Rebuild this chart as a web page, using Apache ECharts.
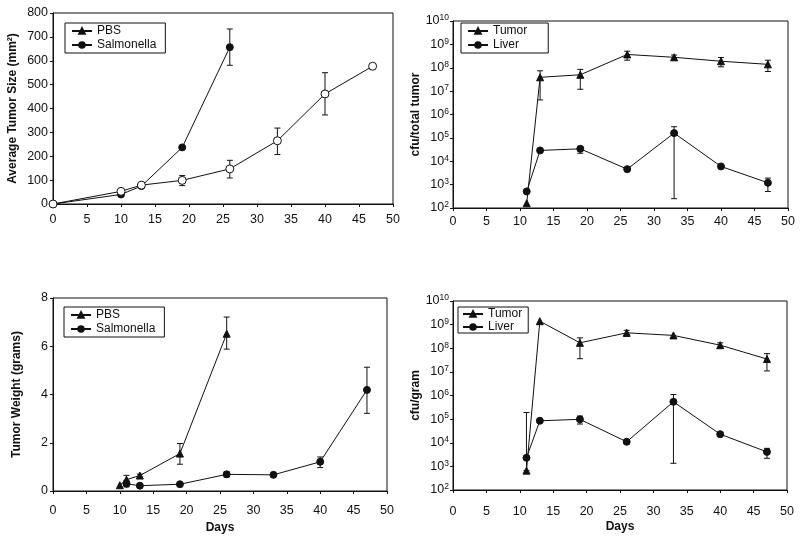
<!DOCTYPE html>
<html><head><meta charset="utf-8">
<script src="https://cdn.jsdelivr.net/npm/echarts@6/dist/echarts.min.js"></script>
<style>html,body{margin:0;padding:0;background:#fff}#c{width:800px;height:537px}</style>
</head><body><div id="c"></div>
<script>
// ---- Panel A: Average tumor size (mm^2)
const sizeDaysPBS = [0, 10, 13, 19, 26];
const sizePBS = [0, 40, 75, 237, 657];
const sizeErrPBS = [[26, 581, 733]];
const sizeDaysSal = [0, 10, 13, 19, 26, 33, 40, 47];
const sizeSal = [0, 53, 79, 99, 147, 265, 461, 577];
const sizeErrSal = [[19, 77, 119], [26, 109, 183], [33, 207, 318], [40, 373, 550]];

// ---- Panel B: cfu/total tumor
const cfuDays = [11, 13, 19, 26, 33, 40, 47];
const tumorTotal = [160, 3.9e7, 5e7, 3.7e8, 2.8e8, 1.9e8, 1.4e8];
const tumorTotalErr = [[13, 4.2e6, 7.4e7], [19, 1.2e7, 8.5e7], [26, 2.1e8, 5.1e8], [33, 2.1e8, 3.5e8], [40, 1.1e8, 2.75e8], [47, 6.9e7, 2.1e8]];
const liverTotal = [510, 2.9e4, 3.4e4, 4.6e3, 1.6e5, 6e3, 1.2e3];
const liverTotalErr = [[19, 2.2e4, 4.3e4], [33, 250, 3e5], [47, 510, 1.9e3]];

// ---- Panel C: tumor weight (grams)
const wDaysPBS = [10, 11, 13, 19, 26];
const wPBS = [0.24, 0.47, 0.64, 1.55, 6.52];
const wErrPBS = [[11, 0.30, 0.65], [13, 0.58, 0.70], [19, 1.11, 1.97], [26, 5.88, 7.21]];
const wDaysSal = [11, 13, 19, 26, 33, 40, 47];
const wSal = [0.30, 0.22, 0.28, 0.69, 0.67, 1.21, 4.19];
const wErrSal = [[11, 0.17, 0.44], [26, 0.58, 0.79], [40, 0.97, 1.41], [47, 3.22, 5.13]];

// ---- Panel D: cfu/gram
const tumorGram = [660, 1.4e9, 1.7e8, 4.5e8, 3.5e8, 1.35e8, 3.5e7];
const tumorGramErr = [[11, 660, 1.9e5], [19, 3.6e7, 2.75e8], [26, 3.2e8, 5.75e8], [40, 9.8e7, 1.7e8], [47, 1.1e7, 5.9e7]];
const liverGram = [2300, 8.5e4, 9.8e4, 1.1e4, 5.4e5, 2.3e4, 4.1e3];
const liverGramErr = [[19, 6.2e4, 1.35e5], [26, 9e3, 1.3e4], [33, 1.35e3, 1.1e6], [47, 2.2e3, 5.8e3]];

const xTicks = [0, 5, 10, 15, 20, 25, 30, 35, 40, 45, 50];

const FONT = '"Liberation Sans", Arial, sans-serif';
const INK = '#111';

function pairs(xs, ys) { return xs.map((x, i) => [x, ys[i]]); }

function errSeries(data, xi, yi) {
  return {
    type: 'custom', xAxisIndex: xi, yAxisIndex: yi, silent: true, z: 1,
    encode: { x: 0, y: [1, 2] },
    data: data,
    renderItem: function (params, api) {
      const x = api.value(0), lo = api.value(1), hi = api.value(2);
      const a = api.coord([x, lo]), b = api.coord([x, hi]);
      const w = 3;
      const st = { stroke: INK, lineWidth: 1 };
      return { type: 'group', children: [
        { type: 'line', shape: { x1: a[0], y1: a[1], x2: b[0], y2: b[1] }, style: st },
        { type: 'line', shape: { x1: a[0] - w, y1: a[1], x2: a[0] + w, y2: a[1] }, style: st },
        { type: 'line', shape: { x1: b[0] - w, y1: b[1], x2: b[0] + w, y2: b[1] }, style: st }
      ] };
    }
  };
}

function lineSeries(name, data, xi, yi, symbol, size, fill) {
  return {
    type: 'line', name: name, xAxisIndex: xi, yAxisIndex: yi, data: data,
    symbol: symbol, symbolSize: size, showAllSymbol: true, z: 3,
    lineStyle: { color: INK, width: 1 },
    itemStyle: { color: fill, borderColor: INK, borderWidth: 1 }
  };
}

function xAxis(gi, margin, showName) {
  return {
    type: 'value', gridIndex: gi, min: 0, max: 50, interval: 5,
    axisLine: { show: true, onZero: false, lineStyle: { color: INK, width: 1 } },
    axisTick: { show: true, length: 3, lineStyle: { color: INK } },
    splitLine: { show: false },
    axisLabel: { color: INK, fontSize: 12.5, fontFamily: FONT, margin: margin },
    name: showName ? 'Days' : '', nameLocation: 'middle', nameGap: 31,
    nameTextStyle: { color: INK, fontSize: 12, fontWeight: 'bold', fontFamily: FONT }
  };
}

function logLabel(v) {
  const e = Math.round(Math.log10(v));
  return '{b|10}{s|' + e + '}';
}

function yAxisLin(gi, min, max, interval, name, gap) {
  return {
    type: 'value', gridIndex: gi, min: min, max: max, interval: interval,
    axisLine: { show: true, onZero: false, lineStyle: { color: INK, width: 1 } },
    axisTick: { show: true, length: 3, lineStyle: { color: INK } },
    splitLine: { show: false },
    axisLabel: { color: INK, fontSize: 12.5, fontFamily: FONT, margin: 5 },
    name: name, nameLocation: 'middle', nameRotate: 90, nameGap: gap,
    nameTextStyle: { color: INK, fontSize: 12, fontWeight: 'bold', fontFamily: FONT }
  };
}

function yAxisLog(gi, name, gap) {
  return {
    type: 'log', logBase: 10, gridIndex: gi, min: 100, max: 1e10,
    axisLine: { show: true, onZero: false, lineStyle: { color: INK, width: 1 } },
    axisTick: { show: true, length: 3, lineStyle: { color: INK } },
    splitLine: { show: false }, minorTick: { show: false },
    axisLabel: {
      formatter: logLabel, margin: 4,
      rich: {
        b: { color: INK, fontSize: 12.5, fontFamily: FONT },
        s: { color: INK, fontSize: 8.5, fontFamily: FONT, verticalAlign: 'top', padding: [0, 0, 6, 0] }
      }
    },
    name: name, nameLocation: 'middle', nameRotate: 90, nameGap: gap,
    nameTextStyle: { color: INK, fontSize: 12, fontWeight: 'bold', fontFamily: FONT }
  };
}

function legend(names, left, top, pad, gap) {
  return {
    data: names, left: left, top: top, orient: 'vertical', selectedMode: false,
    backgroundColor: '#fff', borderColor: INK, borderWidth: 1, borderRadius: 0,
    padding: pad, itemGap: gap, itemWidth: 20, itemHeight: 7,
    textStyle: { color: INK, fontSize: 12, fontFamily: FONT }
  };
}

const gridStyle = { show: true, borderColor: INK, borderWidth: 1, backgroundColor: 'transparent' };

const option = {
  animation: false,
  backgroundColor: '#fff',
  textStyle: { fontFamily: FONT },
  grid: [
    Object.assign({ left: 53, top: 13, width: 340, height: 191 }, gridStyle),
    Object.assign({ left: 453, top: 21, width: 335, height: 187 }, gridStyle),
    Object.assign({ left: 53, top: 298, width: 334, height: 193 }, gridStyle),
    Object.assign({ left: 453, top: 301, width: 334, height: 189 }, gridStyle)
  ],
  xAxis: [xAxis(0, 9, false), xAxis(1, 7, false), xAxis(2, 13, true), xAxis(3, 15, true)],
  yAxis: [
    yAxisLin(0, 0, 800, 100, 'Average Tumor Size (mm\u00B2)', 34),
    yAxisLog(1, 'cfu/total tumor', 22),
    yAxisLin(2, 0, 8, 2, 'Tumor Weight (grams)', 30),
    yAxisLog(3, 'cfu/gram', 29)
  ],
  legend: [
    legend(['PBS', 'Salmonella'], 65, 23, [2, 9, 2, 6], 2),
    legend(['Tumor', 'Liver'], 461, 23, [2, 21, 2, 6], 2),
    legend(['PBS', 'Salmonella'], 64, 307, [2, 9, 2, 6], 2),
    legend(['Tumor', 'Liver'], 458, 307, [1, 6, 0, 4], 1)
  ],
  series: [
    // Panel C first so legends pick triangle / filled circle icons
    errSeries(wErrPBS, 2, 2),
    errSeries(wErrSal, 2, 2),
    lineSeries('PBS', pairs(wDaysPBS, wPBS), 2, 2, 'triangle', 7, INK),
    lineSeries('Salmonella', pairs(wDaysSal, wSal), 2, 2, 'circle', 7, INK),
    // Panel A
    errSeries(sizeErrPBS, 0, 0),
    errSeries(sizeErrSal, 0, 0),
    lineSeries('PBS', pairs(sizeDaysPBS, sizePBS), 0, 0, 'circle', 7, INK),
    lineSeries('Salmonella', pairs(sizeDaysSal, sizeSal), 0, 0, 'circle', 8, '#fff'),
    // Panel B
    errSeries(tumorTotalErr, 1, 1),
    errSeries(liverTotalErr, 1, 1),
    lineSeries('Tumor', pairs(cfuDays, tumorTotal), 1, 1, 'triangle', 7, INK),
    lineSeries('Liver', pairs(cfuDays, liverTotal), 1, 1, 'circle', 7, INK),
    // Panel D
    errSeries(tumorGramErr, 3, 3),
    errSeries(liverGramErr, 3, 3),
    lineSeries('Tumor', pairs(cfuDays, tumorGram), 3, 3, 'triangle', 7, INK),
    lineSeries('Liver', pairs(cfuDays, liverGram), 3, 3, 'circle', 7, INK)
  ]
};

const chart = echarts.init(document.getElementById('c'), null, { renderer: 'canvas' });
chart.setOption(option);
</script>
</body></html>
